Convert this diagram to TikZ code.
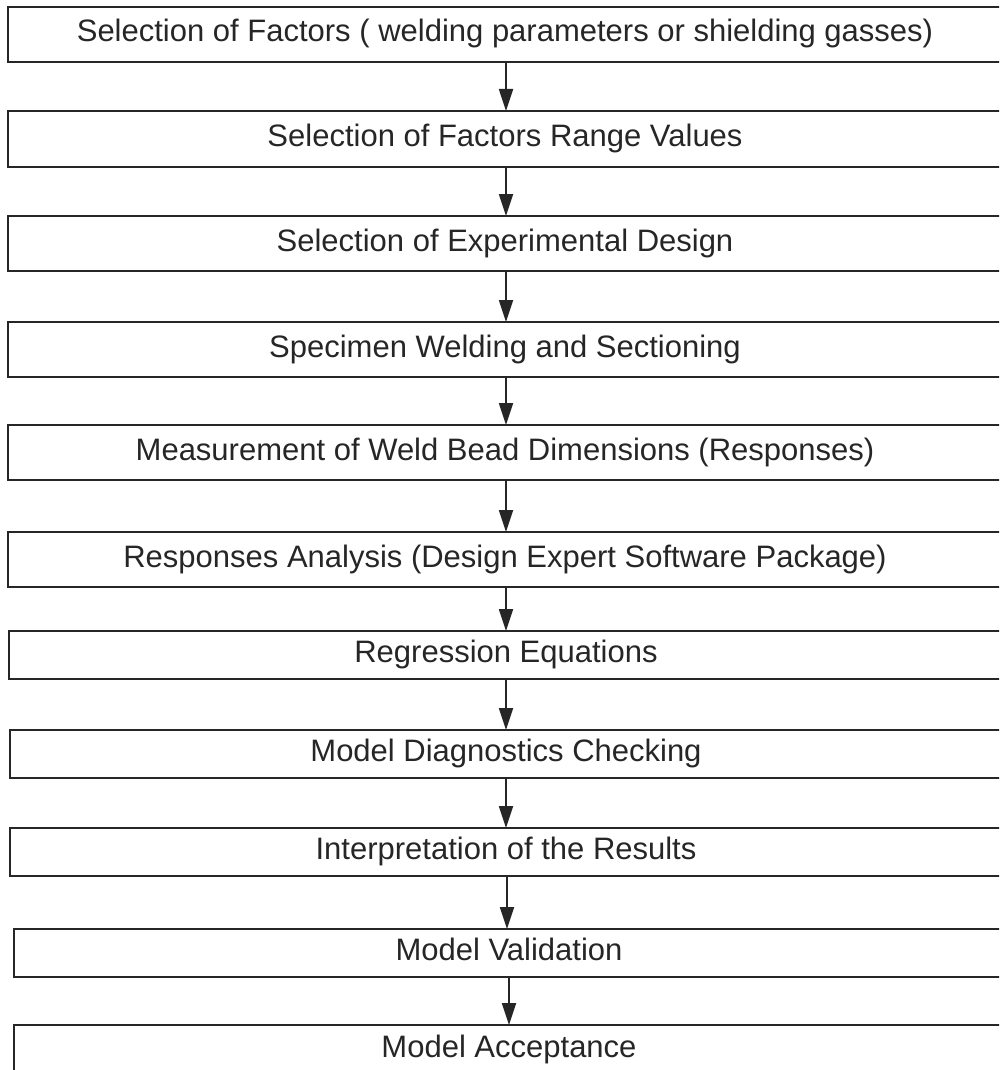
\documentclass[tikz,border=0pt]{standalone}
\usepackage{fontspec}
\setmainfont{Liberation Sans}
\usetikzlibrary{arrows.meta}
\begin{document}
\begin{tikzpicture}[x=1pt,y=-1pt,
  stepbox/.style={draw=black!85, line width=2pt, rectangle, inner sep=0pt, font=\fontsize{31}{34}\selectfont, text=black!85, text height=22pt, text depth=7pt},
  flow/.style={draw=black!85, line width=1.8pt, -{Triangle[length=22pt,width=14pt]}, shorten >=-1pt}]
\useasboundingbox (0,0) rectangle (999,1070);
\clip (0,0) rectangle (999,1070);
\node[stepbox, minimum width=1010pt, minimum height=55pt] (b1) at (513,34.5) {};
\node[stepbox, minimum width=1010pt, minimum height=56pt] (b2) at (513,139) {};
\node[stepbox, minimum width=1010pt, minimum height=55pt] (b3) at (513,243.5) {};
\node[stepbox, minimum width=1010pt, minimum height=55pt] (b4) at (513,349.5) {};
\node[stepbox, minimum width=1010pt, minimum height=55pt] (b5) at (513,452.5) {};
\node[stepbox, minimum width=1010pt, minimum height=55pt] (b6) at (513,559.5) {};
\node[stepbox, minimum width=1010pt, minimum height=48pt] (b7) at (514,655) {};
\node[stepbox, minimum width=1010pt, minimum height=48pt] (b8) at (515,754) {};
\node[stepbox, minimum width=1010pt, minimum height=48pt] (b9) at (515,852) {};
\node[stepbox, minimum width=1010pt, minimum height=48pt] (b10) at (519,953) {};
\node[stepbox, minimum width=1010pt, minimum height=50pt] (b11) at (519,1050) {};
\coordinate (x1) at (505,0);
\coordinate (x2) at (506,0);
\coordinate (x3) at (509,0);
\coordinate (a2) at (507,0);
\node[stepbox, draw=none] (t1) at (b1.center -| x1) {Selection of Factors ( welding parameters or shielding gasses)};
\node[stepbox, draw=none] (t2) at (b2.center -| x1) {Selection of Factors Range Values};
\node[stepbox, draw=none] (t3) at (b3.center -| x1) {Selection of Experimental Design};
\node[stepbox, draw=none] (t4) at (b4.center -| x1) {Specimen Welding and Sectioning};
\node[stepbox, draw=none] (t5) at (b5.center -| x1) {Measurement of Weld Bead Dimensions (Responses)};
\node[stepbox, draw=none] (t6) at (b6.center -| x1) {Responses Analysis (Design Expert Software Package)};
\node[stepbox, draw=none] (t7) at (b7.center -| x2) {Regression Equations};
\node[stepbox, draw=none] (t8) at (b8.center -| x2) {Model Diagnostics Checking};
\node[stepbox, draw=none] (t9) at (b9.center -| x2) {Interpretation of the Results};
\node[stepbox, draw=none] (t10) at (b10.center -| x3) {Model Validation};
\node[stepbox, draw=none] (t11) at (b11.center -| x3) {Model Acceptance};
\draw[flow] (b1.south -| x2) -- (b2.north -| x2);
\draw[flow] (b2.south -| x2) -- (b3.north -| x2);
\draw[flow] (b3.south -| x2) -- (b4.north -| x2);
\draw[flow] (b4.south -| x2) -- (b5.north -| x2);
\draw[flow] (b5.south -| x2) -- (b6.north -| x2);
\draw[flow] (b6.south -| x2) -- (b7.north -| x2);
\draw[flow] (b7.south -| x2) -- (b8.north -| x2);
\draw[flow] (b8.south -| x2) -- (b9.north -| x2);
\draw[flow] (b9.south -| a2) -- (b10.north -| a2);
\draw[flow] (b10.south -| x3) -- (b11.north -| x3);
\end{tikzpicture}
\end{document}
